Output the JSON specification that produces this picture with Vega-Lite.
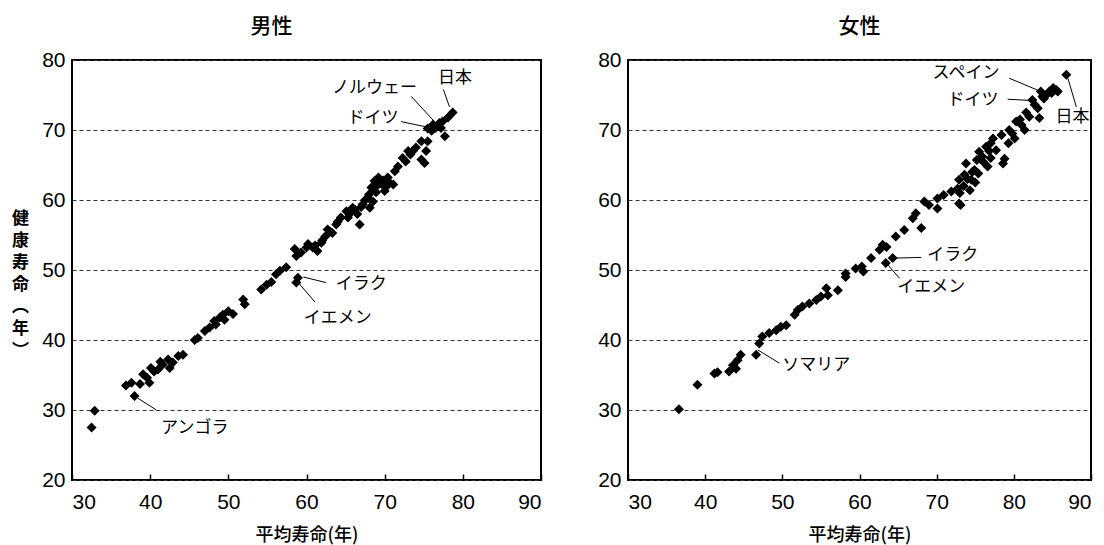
{
  "$schema": "https://vega.github.io/schema/vega-lite/v6.json",
  "background": "white",
  "padding": {"left": 10, "top": 15, "right": 5, "bottom": 0},
  "spacing": 53,
  "config": {
    "view": {"stroke": "black", "strokeWidth": 2},
    "font": "Liberation Sans",
    "axis": {"labelFont": "Liberation Sans", "labelFontSize": 21, "labelColor": "black", "titleFont": "Noto Sans CJK JP", "titleFontSize": 18, "titleFontWeight": 500, "titleColor": "black"},
    "title": {"font": "Noto Sans CJK JP", "fontSize": 21, "fontWeight": 500, "color": "black"}
  },
  "datasets": {
    "male": [
      {"le":32.9,"hale":29.9},{"le":32.5,"hale":27.5},{"le":38.0,"hale":32.0},
      {"le":36.9,"hale":33.5},{"le":37.6,"hale":33.9},{"le":38.7,"hale":33.7},{"le":39.9,"hale":33.9},{"le":39.1,"hale":35.1},{"le":40.1,"hale":36.0},{"le":41.0,"hale":35.8},{"le":41.6,"hale":36.5},{"le":42.3,"hale":37.2},{"le":42.9,"hale":36.8},{"le":43.6,"hale":37.7},{"le":44.2,"hale":37.9},{"le":42.5,"hale":36.0},{"le":40.5,"hale":35.5},{"le":39.6,"hale":34.6},{"le":41.3,"hale":36.9},
      {"le":45.7,"hale":40.0},{"le":46.1,"hale":40.3},{"le":47.0,"hale":41.3},{"le":47.6,"hale":41.8},{"le":48.2,"hale":42.7},{"le":48.9,"hale":43.2},{"le":49.3,"hale":43.6},{"le":50.0,"hale":44.1},{"le":48.4,"hale":42.2},{"le":49.5,"hale":42.9},{"le":50.6,"hale":43.7},{"le":51.9,"hale":45.8},{"le":52.1,"hale":45.1},
      {"le":54.2,"hale":47.2},{"le":54.9,"hale":47.9},{"le":55.5,"hale":48.3},{"le":56.1,"hale":49.4},{"le":56.6,"hale":49.9},{"le":57.4,"hale":50.4},
      {"le":58.9,"hale":48.9},{"le":58.7,"hale":48.2},
      {"le":58.5,"hale":53.0},{"le":58.7,"hale":52.0},{"le":59.3,"hale":52.5},{"le":60.2,"hale":53.7},{"le":60.8,"hale":53.2},{"le":61.4,"hale":52.7},{"le":61.9,"hale":53.9},{"le":62.4,"hale":54.8},{"le":62.7,"hale":55.8},{"le":63.3,"hale":55.3},{"le":63.8,"hale":56.5},{"le":64.4,"hale":57.5},{"le":65.1,"hale":58.4},{"le":65.3,"hale":57.5},{"le":65.9,"hale":58.9},{"le":66.5,"hale":58.0},{"le":66.8,"hale":56.5},{"le":67.2,"hale":59.4},{"le":67.9,"hale":60.3},{"le":68.3,"hale":61.8},{"le":68.7,"hale":62.7},{"le":69.2,"hale":63.2},{"le":68.9,"hale":61.1},{"le":69.6,"hale":62.3},{"le":70.0,"hale":61.3},{"le":70.4,"hale":63.2},{"le":68.5,"hale":59.8},{"le":68.1,"hale":58.9},{"le":71.1,"hale":62.2},{"le":71.3,"hale":64.1},{"le":71.7,"hale":64.8},{"le":72.3,"hale":66.0},{"le":72.7,"hale":65.5},{"le":73.0,"hale":67.0},{"le":73.6,"hale":67.0},{"le":74.7,"hale":65.8},{"le":75.1,"hale":65.3},{"le":75.3,"hale":67.0},{"le":74.7,"hale":68.4},{"le":75.5,"hale":68.4},{"le":76.0,"hale":69.9},{"le":76.5,"hale":70.3},{"le":77.0,"hale":71.0},{"le":77.4,"hale":71.2},{"le":77.7,"hale":69.1},{"le":78.1,"hale":71.8},{"le":78.7,"hale":72.5},{"le":77.2,"hale":70.3},{"le":76.2,"hale":70.8},{"le":75.5,"hale":70.2},
      {"le":64.0,"hale":56.9},{"le":66.2,"hale":58.6},{"le":67.5,"hale":60.0},{"le":69.0,"hale":62.0},{"le":69.8,"hale":62.8},{"le":70.6,"hale":62.5},{"le":60.0,"hale":53.2},{"le":61.1,"hale":53.5},{"le":63.0,"hale":55.5},{"le":74.0,"hale":67.5},{"le":76.8,"hale":70.6},{"le":73.3,"hale":66.5},{"le":70.2,"hale":61.9},{"le":68.0,"hale":60.8},{"le":67.0,"hale":59.0},{"le":65.5,"hale":58.0},{"le":62.0,"hale":54.2}
    ],
    "female": [
      {"le":36.6,"hale":30.1},{"le":39.0,"hale":33.6},{"le":41.2,"hale":35.2},{"le":41.6,"hale":35.4},{"le":43.1,"hale":35.5},{"le":43.6,"hale":36.4},{"le":44.2,"hale":37.1},{"le":44.6,"hale":37.9},{"le":44.0,"hale":35.9},{"le":46.6,"hale":37.9},{"le":47.0,"hale":39.5},{"le":47.4,"hale":40.5},{"le":48.3,"hale":41.0},{"le":49.2,"hale":41.4},{"le":49.8,"hale":41.9},{"le":50.5,"hale":42.1},{"le":51.6,"hale":43.6},{"le":52.0,"hale":44.3},{"le":52.6,"hale":44.8},{"le":53.5,"hale":45.2},{"le":54.4,"hale":45.7},{"le":55.0,"hale":46.2},{"le":55.7,"hale":47.4},{"le":55.9,"hale":46.4},{"le":57.2,"hale":47.1},{"le":58.2,"hale":49.5},{"le":58.2,"hale":49.0},{"le":59.5,"hale":50.2},{"le":60.3,"hale":50.5},{"le":60.5,"hale":49.8},{"le":61.5,"hale":51.7},{"le":62.6,"hale":52.9},{"le":63.0,"hale":53.6},{"le":63.5,"hale":53.3},{"le":64.3,"hale":51.7},{"le":63.4,"hale":51.0},{"le":64.7,"hale":54.8},{"le":65.8,"hale":55.7},{"le":66.9,"hale":57.4},{"le":67.3,"hale":58.1},{"le":68.0,"hale":56.0},{"le":68.4,"hale":59.8},{"le":69.0,"hale":59.3},{"le":70.1,"hale":60.2},{"le":70.1,"hale":58.8},{"le":70.9,"hale":60.7},{"le":71.9,"hale":61.2},{"le":72.7,"hale":61.6},{"le":73.1,"hale":59.3},{"le":72.9,"hale":62.9},{"le":73.6,"hale":63.6},{"le":73.8,"hale":65.2},{"le":74.3,"hale":61.4},{"le":74.5,"hale":62.9},{"le":74.9,"hale":64.3},{"le":75.4,"hale":63.8},{"le":75.2,"hale":65.7},{"le":75.5,"hale":66.9},{"le":75.9,"hale":66.2},{"le":76.4,"hale":67.6},{"le":76.6,"hale":64.8},{"le":77.0,"hale":68.1},{"le":77.3,"hale":68.8},{"le":77.7,"hale":67.1},{"le":78.4,"hale":69.3},{"le":78.6,"hale":65.2},{"le":78.8,"hale":65.9},{"le":79.3,"hale":68.1},{"le":79.4,"hale":70.0},{"le":80.1,"hale":68.8},{"le":80.3,"hale":71.2},{"le":81.0,"hale":70.7},{"le":81.4,"hale":70.0},{"le":82.0,"hale":71.9},{"le":82.7,"hale":73.6},{"le":83.1,"hale":73.1},{"le":83.3,"hale":71.7},{"le":83.7,"hale":74.8},{"le":84.2,"hale":75.0},{"le":84.6,"hale":75.5},{"le":85.1,"hale":76.0},{"le":85.5,"hale":75.7},{"le":85.7,"hale":75.5},{"le":86.8,"hale":77.9},{"le":83.5,"hale":75.5},{"le":82.4,"hale":74.3},{"le":72.9,"hale":59.5},
      {"le":73.5,"hale":62.0},{"le":74.0,"hale":63.0},{"le":75.0,"hale":62.5},{"le":76.0,"hale":65.5},{"le":77.0,"hale":66.0},{"le":74.6,"hale":64.0},{"le":73.0,"hale":61.0},{"le":76.8,"hale":67.0},{"le":79.8,"hale":69.5},{"le":80.8,"hale":71.5},{"le":81.6,"hale":72.5},{"le":84.9,"hale":75.3},{"le":83.9,"hale":74.5}
    ],
    "maleLabels": [
      {"label":"日本","x":79.0,"y":77.4},
      {"label":"ノルウェー","x":68.7,"y":76.0},
      {"label":"ドイツ","x":68.5,"y":71.7},
      {"label":"イラク","x":67.0,"y":48.0},
      {"label":"イエメン","x":64.0,"y":43.2},
      {"label":"アンゴラ","x":45.7,"y":27.5}
    ],
    "maleLines": [
      {"x1":77.5,"y1":75.8,"x2":78.3,"y2":73.3},
      {"x1":73.4,"y1":74.8,"x2":76.2,"y2":71.4},
      {"x1":72.1,"y1":71.2,"x2":75.5,"y2":70.4},
      {"x1":59.6,"y1":49.0,"x2":62.5,"y2":48.2},
      {"x1":59.1,"y1":48.0,"x2":61.1,"y2":45.4},
      {"x1":38.4,"y1":31.7,"x2":40.8,"y2":30.0}
    ],
    "femaleLabels": [
      {"label":"スペイン","x":73.8,"y":78.1},
      {"label":"ドイツ","x":74.7,"y":74.3},
      {"label":"日本","x":87.6,"y":71.9},
      {"label":"イラク","x":72.1,"y":52.1},
      {"label":"イエメン","x":69.3,"y":47.6},
      {"label":"ソマリア","x":54.4,"y":36.4}
    ],
    "femaleLines": [
      {"x1":79.4,"y1":77.4,"x2":83.5,"y2":75.5},
      {"x1":79.2,"y1":74.4,"x2":82.4,"y2":74.2},
      {"x1":87.0,"y1":77.4,"x2":88.1,"y2":73.3},
      {"x1":64.5,"y1":51.7,"x2":68.0,"y2":51.8},
      {"x1":63.7,"y1":50.7,"x2":65.2,"y2":48.8},
      {"x1":46.8,"y1":38.6,"x2":49.6,"y2":36.7}
    ]
  },
  "hconcat": [
    {
      "width": 469,
      "height": 420,
      "title": {"text": "男性", "dx": -35, "offset": 12},
      "layer": [
        {
          "data": {"name": "male"},
          "mark": {"type": "point", "shape": "diamond", "filled": true, "color": "black", "size": 100, "opacity": 1},
          "encoding": {
            "x": {"field": "le", "type": "quantitative", "scale": {"domain": [30, 90], "nice": false, "zero": false},
                  "axis": {"values": [30,40,50,60,70,80,90], "grid": false, "domain": false, "tickSize": -6, "tickColor": "black", "tickWidth": 1.5, "labelPadding": 17, "title": "平均寿命(年)", "titlePadding": 14}},
            "y": {"field": "hale", "type": "quantitative", "scale": {"domain": [20, 80], "nice": false, "zero": false},
                  "axis": {"values": [20,30,40,50,60,70,80], "grid": true, "gridDash": [4,3], "gridColor": "#333", "gridOpacity": 1, "ticks": false, "domain": false, "labelPadding": 7,
                           "title": ["健","康","寿","命","︵","年","︶"], "titleAngle": 0, "titleLineHeight": 22, "titleFontSize": 17, "titleFontWeight": "bold", "titleX": -52, "titleY": 158, "titleAlign": "center", "titleBaseline": "middle"}}
          }
        },
        {
          "data": {"name": "maleLines"},
          "mark": {"type": "rule", "color": "black", "strokeWidth": 1},
          "encoding": {
            "x": {"field": "x1", "type": "quantitative"},
            "y": {"field": "y1", "type": "quantitative"},
            "x2": {"field": "x2"},
            "y2": {"field": "y2"}
          }
        },
        {
          "data": {"name": "maleLabels"},
          "mark": {"type": "text", "font": "Noto Sans CJK JP", "fontSize": 17, "color": "black", "align": "center", "baseline": "middle"},
          "encoding": {
            "x": {"field": "x", "type": "quantitative"},
            "y": {"field": "y", "type": "quantitative"},
            "text": {"field": "label"}
          }
        }
      ]
    },
    {
      "width": 463,
      "height": 420,
      "title": {"text": "女性", "dx": 0, "offset": 12},
      "layer": [
        {
          "data": {"name": "female"},
          "mark": {"type": "point", "shape": "diamond", "filled": true, "color": "black", "size": 100, "opacity": 1},
          "encoding": {
            "x": {"field": "le", "type": "quantitative", "scale": {"domain": [30, 90], "nice": false, "zero": false},
                  "axis": {"values": [30,40,50,60,70,80,90], "grid": false, "domain": false, "tickSize": -6, "tickColor": "black", "tickWidth": 1.5, "labelPadding": 17, "title": "平均寿命(年)", "titlePadding": 14}},
            "y": {"field": "hale", "type": "quantitative", "scale": {"domain": [20, 80], "nice": false, "zero": false},
                  "axis": {"values": [20,30,40,50,60,70,80], "grid": true, "gridDash": [4,3], "gridColor": "#333", "gridOpacity": 1, "ticks": false, "domain": false, "labelPadding": 7, "title": null}}
          }
        },
        {
          "data": {"name": "femaleLines"},
          "mark": {"type": "rule", "color": "black", "strokeWidth": 1},
          "encoding": {
            "x": {"field": "x1", "type": "quantitative"},
            "y": {"field": "y1", "type": "quantitative"},
            "x2": {"field": "x2"},
            "y2": {"field": "y2"}
          }
        },
        {
          "data": {"name": "femaleLabels"},
          "mark": {"type": "text", "font": "Noto Sans CJK JP", "fontSize": 17, "color": "black", "align": "center", "baseline": "middle"},
          "encoding": {
            "x": {"field": "x", "type": "quantitative"},
            "y": {"field": "y", "type": "quantitative"},
            "text": {"field": "label"}
          }
        }
      ]
    }
  ]
}
